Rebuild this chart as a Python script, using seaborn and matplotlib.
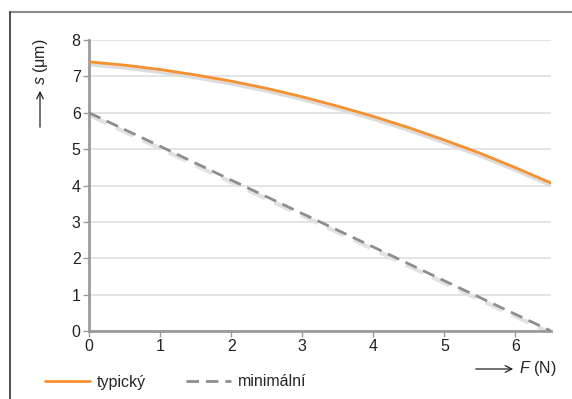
import matplotlib
matplotlib.use("Agg")

import pandas as pd
import matplotlib.pyplot as plt
import matplotlib.transforms as mtransforms
from matplotlib.lines import Line2D
import seaborn as sns

# data
F_typ = [0, 0.5, 1, 1.5, 2, 2.5, 3, 3.5, 4, 4.5, 5, 5.5, 6, 6.5]
s_typ = [7.40, 7.31, 7.19, 7.04, 6.87, 6.67, 6.44, 6.18, 5.90, 5.59, 5.25, 4.89, 4.49, 4.07]
F_min = [0, 1, 2, 3, 4, 5, 6, 6.5]
s_min = [6.00, 5.08, 4.15, 3.23, 2.31, 1.38, 0.46, 0.00]
x_ticks = [0, 1, 2, 3, 4, 5, 6]
y_ticks = [0, 1, 2, 3, 4, 5, 6, 7, 8]

sns.set_theme(style="white")
plt.rcParams['font.family'] = ['Liberation Sans', 'DejaVu Sans']
plt.rcParams['mathtext.fontset'] = 'custom'
plt.rcParams['mathtext.it'] = 'Liberation Sans:italic'
plt.rcParams['mathtext.rm'] = 'Liberation Sans'

ORANGE = '#f7902f'
GREY = '#8e8e8e'
AXIS = '#9a9a9a'
FS = 11.5

fig = plt.figure(figsize=(5.72, 3.99), dpi=100)
ax = fig.add_axes([0.1556, 0.1704, 0.8077, 0.7293])

df_typ = pd.DataFrame({'F': F_typ, 's': s_typ})
df_min = pd.DataFrame({'F': F_min, 's': s_min})

# soft shadow under the curves
shadow = ax.transData + mtransforms.ScaledTranslation(0.5 / 72, -1.8 / 72, fig.dpi_scale_trans)
ax.plot(df_typ['F'], df_typ['s'], color='#dcdcdc', lw=3, transform=shadow, zorder=2)
ax.plot(df_min['F'], df_min['s'], color='#e2e2e2', lw=3, transform=shadow, zorder=2,
        dashes=(4.5, 2.5))

sns.lineplot(data=df_typ, x='F', y='s', color=ORANGE, lw=2, ax=ax, zorder=3,
             label='typický')
sns.lineplot(data=df_min, x='F', y='s', color=GREY, lw=2, ax=ax, zorder=3,
             dashes=(4.5, 2.5), label='minimální')

ax.set_xlim(0, 6.5)
ax.set_ylim(0, 8)
ax.set_xticks(x_ticks)
ax.set_yticks(y_ticks)
ax.set_xlabel('')
ax.set_ylabel('')
ax.yaxis.grid(True, color='#e2e2e2', lw=1.3)
ax.set_axisbelow(True)
for side in ['top', 'right']:
    ax.spines[side].set_visible(False)
for side in ['left', 'bottom']:
    ax.spines[side].set_color(AXIS)
    ax.spines[side].set_linewidth(2)
ax.tick_params(axis='both', direction='out', length=4, width=1, color=AXIS,
               labelsize=FS, labelcolor='#222222', pad=2, left=True, bottom=True)

# axis labels with arrows
ax.annotate('', xy=(40 / 572, 1 - 88 / 399), xytext=(40 / 572, 1 - 130 / 399),
            xycoords='figure fraction',
            arrowprops=dict(arrowstyle='->', color='#222222', lw=0.9))
fig.text(40 / 572, 1 - 62 / 399, '$s$ (μm)', rotation=90, ha='center', va='center',
         fontsize=FS, color='#222222')
ax.annotate('', xy=(516 / 572, 1 - 369 / 399), xytext=(473 / 572, 1 - 369 / 399),
            xycoords='figure fraction',
            arrowprops=dict(arrowstyle='->', color='#222222', lw=0.9))
fig.text(538 / 572, 1 - 369 / 399, '$F$ (N)', ha='center', va='center',
         fontsize=FS, color='#222222')

ax.legend(loc='center left', bbox_to_anchor=(45 / 572, 1 - 382 / 399),
          bbox_transform=fig.transFigure, ncol=2, frameon=False, fontsize=FS,
          handlelength=2.8, columnspacing=2.5, handletextpad=0.45,
          borderpad=0, borderaxespad=0)

# frame around the figure (top and left visible)
fig.add_artist(Line2D([10 / 572, 1], [1 - 12 / 399, 1 - 12 / 399], color='#8a8a8a', lw=1.5))
fig.add_artist(Line2D([10 / 572, 10 / 572], [0, 1 - 12 / 399], color='#333333', lw=1.2))

fig.savefig('out.png', dpi=100)
